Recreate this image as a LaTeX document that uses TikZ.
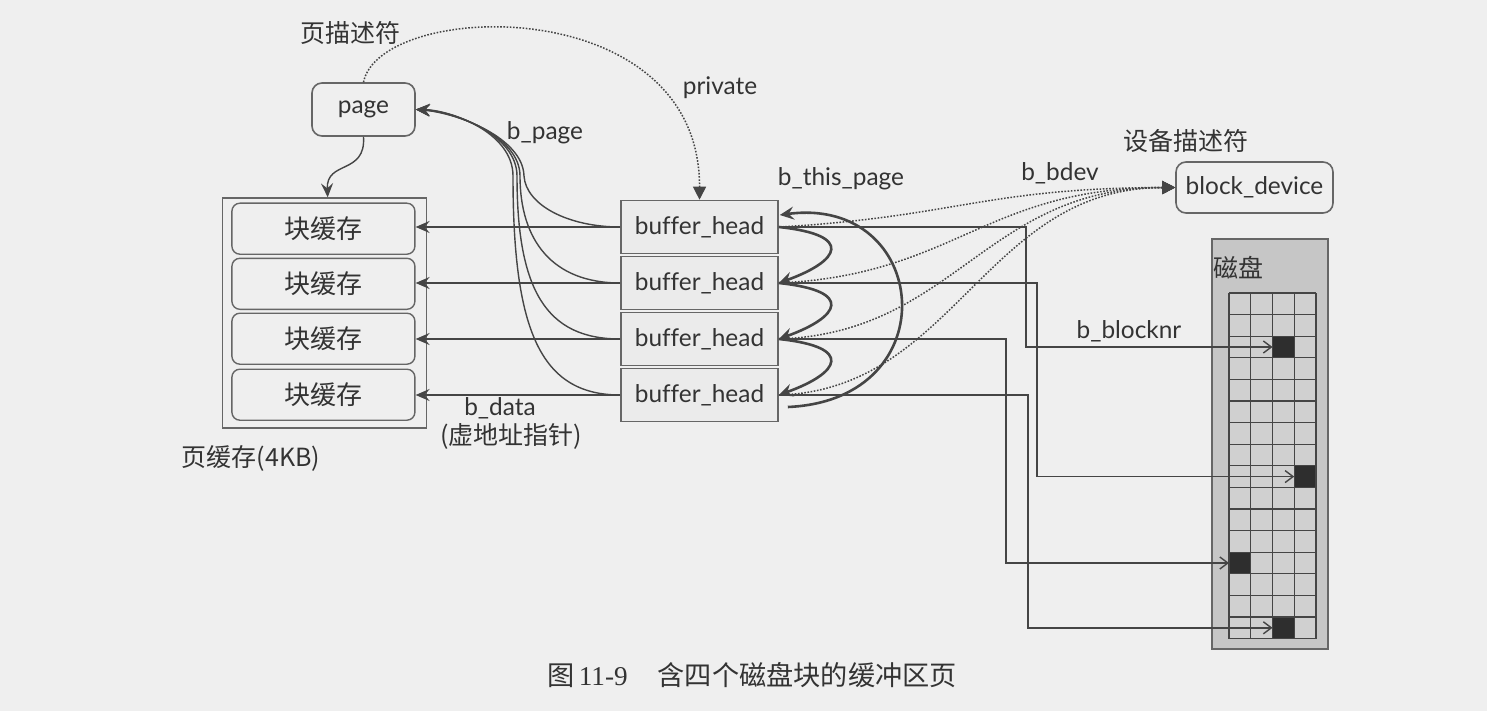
\documentclass[tikz,border=0pt]{standalone}
\usepackage{fontspec}
\setmainfont{Lato}[Ligatures=NoCommon]
\newfontfamily\cjk{Noto Sans CJK SC}
\newfontfamily\capserif{Liberation Serif}
\usetikzlibrary{arrows.meta}
\definecolor{paper}{HTML}{EFEFEF}
\definecolor{ink}{HTML}{454545}
\definecolor{txt}{HTML}{333333}
\definecolor{boxline}{HTML}{666666}
\definecolor{diskfill}{HTML}{C6C6C6}
\definecolor{cellfill}{HTML}{D0D0D0}
\definecolor{blk}{HTML}{2E2E2E}
\tikzset{
  lat/.style={font=\fontsize{12.2}{14}\selectfont, text=txt},
  han/.style={font=\cjk\fontsize{12.5}{14}\selectfont, text=txt},
  bhbox/.style={draw=boxline, fill=black!8, line width=0.8pt, minimum width=78.5pt, minimum height=26.5pt, inner sep=0pt, lat},
  cachebox/.style={draw=boxline, rounded corners=4pt, line width=0.7pt, minimum width=91.5pt, minimum height=25.5pt, inner sep=0pt, han, font=\cjk\fontsize{13}{14}\selectfont},
  rbox/.style={draw=boxline, fill=paper, rounded corners=5pt, line width=0.8pt, inner sep=0pt, lat},
  harrow/.style={draw=ink, line width=1pt, -{Stealth[length=7pt,width=6pt,inset=2.5pt]}},
  curvarrow/.style={draw=ink, line width=0.7pt, -{Stealth[length=7pt,width=6pt,inset=2.5pt]}},
  thisarrow/.style={draw=ink, line width=1.3pt, -{Stealth[length=7pt,width=6.5pt,inset=2.5pt]}},
  dotarrow/.style={draw=ink, line width=0.75pt, dash pattern=on 0.8pt off 0.8pt, -{Triangle[length=6.5pt,width=6.5pt]}},
  blkarrow/.style={draw=ink, line width=0.7pt, -{Straight Barb[length=4pt,width=6pt]}}
}
\begin{document}
\begin{tikzpicture}[x=0.5pt,y=-0.5pt]
\path[fill=paper] (0,0) rectangle (1487,711);
\useasboundingbox (0,0) rectangle (1487,711);

% page descriptor
\node[han] (lblpd) at (350,33) {页描述符};
\node[rbox, minimum width=51.5pt, minimum height=26.5pt] (page) at (363.5,109.5) {page};

% page cache
\node[draw=boxline, line width=0.7pt, minimum width=102pt, minimum height=115pt, inner sep=0pt] (pcache) at (324.7,313) {};
\node[cachebox] (c1) at (323.4,228.7) {块缓存};
\node[cachebox] (c2) at (323.4,283.8) {块缓存};
\node[cachebox] (c3) at (323.4,338.7) {块缓存};
\node[cachebox] (c4) at (323.4,394.7) {块缓存};
\node[han] (lblpc) at (251,458) {页缓存(4KB)};
\node[lat] (lbldata) at (500,408) {b\_data};
\node[han] (lblva) at (511,436) {(虚地址指针)};

% buffer heads
\node[bhbox] (bh1) at (699.5,227) {buffer\_head};
\node[bhbox] (bh2) at (699.5,283) {buffer\_head};
\node[bhbox] (bh3) at (699.5,339) {buffer\_head};
\node[bhbox] (bh4) at (699.5,395) {buffer\_head};

% block device
\node[han] (lbldd) at (1186,141) {设备描述符};
\node[rbox, minimum width=78.5pt, minimum height=25.5pt] (dev) at (1254.5,187.5) {block\_device};

% disk
\node[draw=boxline, fill=diskfill, line width=0.7pt, minimum width=58pt, minimum height=205pt, inner sep=0pt] (disk) at (1270,444) {};
\node[han, anchor=west, inner sep=0pt] (lbldisk) at (1213,268) {磁盘};
\path[fill=cellfill] (1229,293) rectangle (1316,638.6);
\path[fill=blk] (1272.5,336.2) rectangle +(21.75,21.6);
\path[fill=blk] (1294.25,465.8) rectangle +(21.75,21.6);
\path[fill=blk] (1229,552.2) rectangle +(21.75,21.6);
\path[fill=blk] (1272.5,617) rectangle +(21.75,21.6);
\foreach \r in {0,...,16}{
  \draw[ink, line width=0.65pt] (1229,293+\r*21.6) -- (1316,293+\r*21.6);
}
\foreach \c in {0,...,4}{
  \draw[ink, line width=0.65pt] (1229+\c*21.75,293) -- (1229+\c*21.75,638.6);
}
\coordinate (cA) at (1272.5,347);
\coordinate (cB) at (1294.25,476.6);
\coordinate (cC) at (1229,563);
\coordinate (cD) at (1272.5,627.8);

% labels
\node[lat] (lblpriv) at (720,88) {private};
\node[lat] (lblbpage) at (545,133) {b\_page};
\node[lat] (lblthis) at (841,179) {b\_this\_page};
\node[lat] (lblbdev) at (1060,173) {b\_bdev};
\node[lat] (lblnr) at (1129,331) {b\_blocknr};

% page -> page cache
\draw[curvarrow] (page.south) .. controls (366,175) and (326,160) .. ([shift={(3,0)}]pcache.north);

% private
\draw[dotarrow] (page.north) .. controls (380,0) and (700,-10) .. (bh1.north);

% b_data arrows
\draw[harrow] (bh1.west) -- (bh1.west -| c1.east);
\draw[harrow] (bh2.west) -- (bh2.west -| c2.east);
\draw[harrow] (bh3.west) -- (bh3.west -| c3.east);
\draw[harrow] (bh4.west) -- (bh4.west -| c4.east);

% b_page curves
\draw[curvarrow] (bh1.west) .. controls (568,227) and (526,205) .. (524,176) .. controls (523,138) and (458,113) .. (page.east);
\draw[curvarrow] (bh2.west) .. controls (552,283) and (520,240) .. (520,176) .. controls (520,136) and (455,112) .. (page.east);
\draw[curvarrow] (bh3.west) .. controls (546,339) and (517,290) .. (517,176) .. controls (517,134) and (452,111) .. (page.east);
\draw[curvarrow] (bh4.west) .. controls (540,395) and (513,330) .. (513,176) .. controls (513,132) and (450,110) .. (page.east);

% b_this_page
\draw[thisarrow] (bh1.east) .. controls (855,235) and (840,261) .. (bh2.east);
\draw[thisarrow] (bh2.east) .. controls (855,291) and (840,317) .. (bh3.east);
\draw[thisarrow] (bh3.east) .. controls (855,347) and (840,373) .. (bh4.east);
\draw[thisarrow] ([shift={(9,12)}]bh4.east) .. controls (950,400) and (930,195) .. ([shift={(1,-12)}]bh1.east);

% b_bdev
\draw[dotarrow] (bh1.east) .. controls (955,217) and (985,188) .. (dev.west);
\draw[dotarrow] (bh2.east) .. controls (955,275) and (985,188) .. (dev.west);
\draw[dotarrow] (bh3.east) .. controls (955,333) and (985,188) .. (dev.west);
\draw[dotarrow] (bh4.east) .. controls (955,390) and (985,188) .. (dev.west);

% b_blocknr
\draw[blkarrow] (bh1.east) -- ++(247,0) |- (cA);
\draw[blkarrow] (bh2.east) -- ++(258,0) |- (cB);
\draw[blkarrow] (bh3.east) -- ++(227,0) |- (cC);
\draw[blkarrow] (bh4.east) -- ++(249,0) |- (cD);

% caption
\node[text=txt, font=\fontsize{13.6}{15}\selectfont] (caption) at (752,675) {{\cjk 图}\,{\capserif 11-9}\hspace{1.1em}{\cjk 含四个磁盘块的缓冲区页}};
\end{tikzpicture}
\end{document}
